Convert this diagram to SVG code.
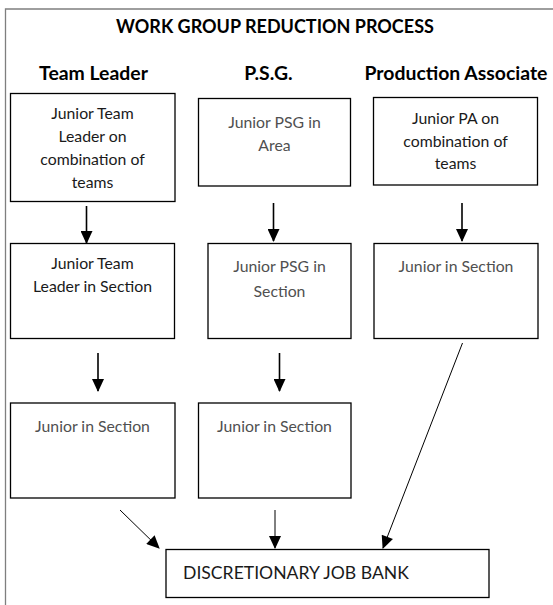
<svg xmlns="http://www.w3.org/2000/svg" width="553" height="605" viewBox="0 0 553 605">
<defs>
<style>
.frame{fill:none;stroke:#7f7f7f;stroke-width:1.3}
.box{fill:#fff;stroke:#000;stroke-width:1.3}
.t{font-family:Lato,"Open Sans","Liberation Sans",sans-serif;font-size:15.8px;text-anchor:middle}
.dk{fill:#1a1a1a}
.gr{fill:#505050}
.hd{font-family:Lato,"Open Sans","Liberation Sans",sans-serif;font-weight:bold;fill:#000;text-anchor:middle}
.thick{stroke:#000;stroke-width:1.6;fill:none}
.thin{stroke:#000;stroke-width:1;fill:none}
</style>
<marker id="ah" markerUnits="userSpaceOnUse" markerWidth="14" markerHeight="12" viewBox="0 0 13 12" refX="12" refY="6" orient="auto">
<path d="M0,0 L13,6 L0,12 z" fill="#000"/>
</marker>
</defs>
<path class="frame" d="M5.5,605 V9 H553"/>
<text class="hd" x="275" y="33" font-size="18">WORK GROUP REDUCTION PROCESS</text>
<text class="hd" x="93.5" y="79.5" font-size="19.4">Team Leader</text>
<text class="hd" x="268.5" y="79.5" font-size="19.4">P.S.G.</text>
<text class="hd" x="456" y="79.5" font-size="19.4">Production Associate</text>

<g id="tl1"><rect class="box" x="10.5" y="93.5" width="164.5" height="108"/>
<text class="t dk" x="92.5" y="119">Junior Team</text><text class="t dk" x="92.5" y="141.7">Leader on</text><text class="t dk" x="92.5" y="165">combination of</text><text class="t dk" x="92.5" y="188">teams</text></g>
<g id="psg1"><rect class="box" x="198.5" y="98.5" width="152" height="87.5"/>
<text class="t gr" x="274.5" y="128.3">Junior PSG in</text><text class="t gr" x="274.5" y="150.7">Area</text></g>
<g id="pa1"><rect class="box" x="373.5" y="97.5" width="164" height="87.5"/>
<text class="t dk" x="455.5" y="124.3">Junior PA on</text><text class="t dk" x="455.5" y="146.7">combination of</text><text class="t dk" x="455.5" y="169">teams</text></g>

<g id="tl2"><rect class="box" x="10.5" y="243.5" width="164" height="95"/>
<text class="t dk" x="92.5" y="269">Junior Team</text><text class="t dk" x="92.5" y="292.3">Leader in Section</text></g>
<g id="psg2"><rect class="box" x="208" y="243.5" width="143" height="95"/>
<text class="t gr" x="279.5" y="272.3">Junior PSG in</text><text class="t gr" x="279.5" y="296.7">Section</text></g>
<g id="pa2"><rect class="box" x="374" y="243.5" width="164" height="95"/>
<text class="t gr" x="456" y="272.3">Junior in Section</text></g>

<g id="tl3"><rect class="box" x="10.5" y="403" width="164.5" height="95"/>
<text class="t gr" x="92.5" y="432">Junior in Section</text></g>
<g id="psg3"><rect class="box" x="198.5" y="403" width="152.5" height="95"/>
<text class="t gr" x="274.5" y="432">Junior in Section</text></g>

<g id="djb"><rect class="box" x="166" y="549.5" width="323" height="48"/>
<text class="t dk" x="183" y="579" style="text-anchor:start;font-size:17.6px">DISCRETIONARY JOB BANK</text></g>

<g id="connectors">
<line class="thick" x1="86.5" y1="206" x2="86.5" y2="243" marker-end="url(#ah)"/>
<line class="thick" x1="273.5" y1="203" x2="273.5" y2="241" marker-end="url(#ah)"/>
<line class="thick" x1="462" y1="203" x2="462" y2="241" marker-end="url(#ah)"/>
<line class="thick" x1="98" y1="353" x2="98" y2="391" marker-end="url(#ah)"/>
<line class="thick" x1="279.5" y1="353" x2="279.5" y2="391" marker-end="url(#ah)"/>
<line class="thin" x1="120" y1="510" x2="159" y2="548" marker-end="url(#ah)"/>
<line class="thin" x1="275" y1="510" x2="275" y2="548" marker-end="url(#ah)"/>
<line class="thin" x1="462.5" y1="343" x2="383" y2="548" marker-end="url(#ah)"/>
</g>
</svg>
